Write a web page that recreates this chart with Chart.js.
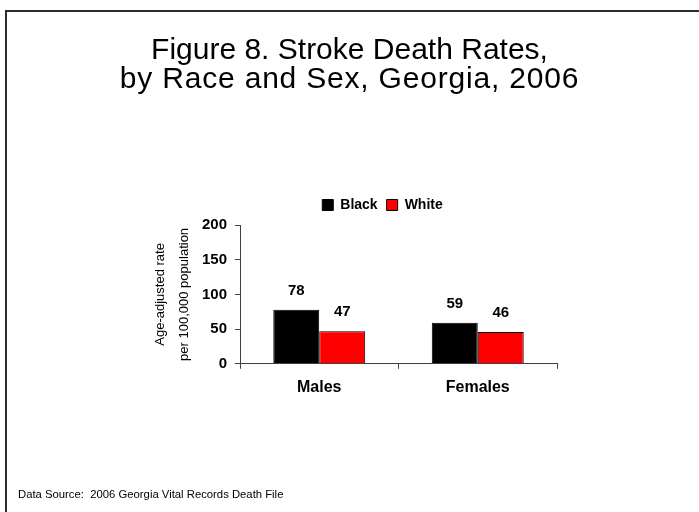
<!DOCTYPE html>
<html>
<head>
<meta charset="utf-8">
<title>Stroke Death Rates by Race and Sex, Georgia, 2006</title>
<script src="https://cdn.jsdelivr.net/npm/chart.js@4"></script>
<style>
  html, body { margin: 0; padding: 0; background: #fff; width: 699px; height: 512px; overflow: hidden; }
  body { position: relative; font-family: "Liberation Sans", Arial, sans-serif; color: #000; }
  #frame { position: absolute; left: 5px; top: 10px; width: 800px; height: 600px; border: 2px solid #2b2b2b; box-sizing: border-box; }
  #title { position: absolute; left: 0; top: 34px; width: 699px; text-align: center; font-size: 30px; line-height: 29px; }
  #title .second { letter-spacing: 0.8px; }
  #source { position: absolute; left: 18px; top: 488px; font-size: 11.3px; line-height: 13px; white-space: pre; }
  #chart { position: absolute; left: 0; top: 0; }
</style>
</head>
<body>
<div id="frame"></div>
<canvas id="chart" width="699" height="512"></canvas>
<div id="title">Figure 8. Stroke Death Rates,<br><span class="second">by Race and Sex, Georgia, 2006</span></div>
<div id="source">Data Source:  2006 Georgia Vital Records Death File</div>
<script>
// Age-adjusted stroke death rates per 100,000 population
const categories = ['Males', 'Females'];
const seriesNames = ['Black', 'White'];
const blackRates = [78, 59];
const whiteRates = [47, 46];
const yTickValues = [0, 50, 100, 150, 200];
const yTitleLines = ['Age-adjusted rate', 'per 100,000 population'];

const FONT = '"Liberation Sans", Arial, sans-serif';

// Writes each bar's value above it
const barValueLabels = {
  id: 'barValueLabels',
  afterDatasetsDraw(chart) {
    const ctx = chart.ctx;
    ctx.save();
    ctx.font = 'bold 15px ' + FONT;
    ctx.fillStyle = '#000';
    ctx.textAlign = 'center';
    ctx.textBaseline = 'middle';
    chart.data.datasets.forEach((ds, i) => {
      chart.getDatasetMeta(i).data.forEach((bar, j) => {
        ctx.fillText(String(ds.data[j]), bar.x, bar.y - 19);
      });
    });
    ctx.restore();
  }
};

// Moves the legend row a little off the default centred position
const legendNudge = {
  id: 'legendNudge',
  afterLayout(chart, args, opts) {
    const lg = chart.legend;
    if (!lg) return;
    lg.left += opts.dx; lg.right += opts.dx;
    lg.top += opts.dy; lg.bottom += opts.dy;
  }
};

new Chart(document.getElementById('chart'), {
  type: 'bar',
  data: {
    labels: categories,
    datasets: [
      { label: seriesNames[0], data: blackRates, backgroundColor: '#000000', borderColor: '#000000', borderWidth: 1 },
      { label: seriesNames[1], data: whiteRates, backgroundColor: '#ff0000', borderColor: '#000000', borderWidth: 1 }
    ]
  },
  options: {
    responsive: false,
    animation: false,
    events: [],
    layout: { padding: { left: 144, right: 142, top: 192, bottom: 106 } },
    datasets: { bar: { categoryPercentage: 0.58, barPercentage: 1.0 } },
    plugins: {
      tooltip: { enabled: false },
      title: { display: false },
      legend: {
        position: 'top',
        labels: {
          boxWidth: 11, boxHeight: 11, padding: 9, color: '#000',
          font: { family: FONT, size: 14, weight: 'bold' }
        }
      },
      legendNudge: { dx: 32, dy: -3 }
    },
    scales: {
      x: {
        grid: { offset: true, drawOnChartArea: false, tickLength: 5, color: '#404040' },
        border: { color: '#404040', width: 1 },
        ticks: { color: '#000', padding: 9, font: { family: FONT, size: 16, weight: 'bold' } }
      },
      y: {
        min: 0, max: 200,
        afterBuildTicks(scale) { scale.ticks = yTickValues.map(v => ({ value: v })); },
        afterFit(scale) { scale.width = 96; },
        grid: { drawOnChartArea: false, tickLength: 5, color: '#404040' },
        border: { color: '#404040', width: 1 },
        ticks: { color: '#000', padding: 8, font: { family: FONT, size: 15, weight: 'bold' } },
        title: {
          display: true, text: yTitleLines, color: '#000',
          font: { family: FONT, size: 13, lineHeight: '24px' },
          padding: { top: 4, bottom: 0 }
        }
      }
    }
  },
  plugins: [barValueLabels, legendNudge]
});
</script>
</body>
</html>
